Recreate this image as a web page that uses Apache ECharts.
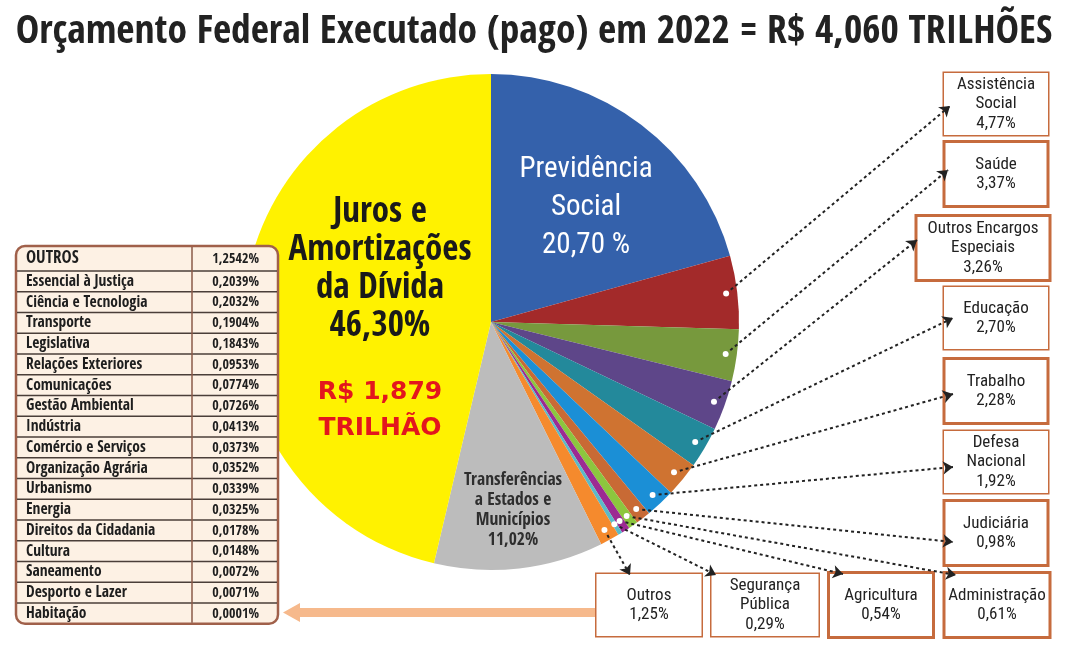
<!DOCTYPE html>
<html>
<head>
<meta charset="utf-8">
<script src="https://cdn.jsdelivr.net/npm/echarts@6/dist/echarts.min.js"></script>
<style>
html,body{margin:0;padding:0;background:#fff;}
#c{width:1068px;height:652px;}
</style>
</head>
<body>
<div id="c"></div>
<script>
// ---------------- DATA ----------------
const titleText = 'Orçamento Federal Executado (pago) em 2022 = R$ 4,060 TRILHÕES';
const categories = ['Previdência Social','Assistência Social','Saúde','Outros Encargos Especiais','Educação','Trabalho','Defesa Nacional','Judiciária','Administração','Agricultura','Segurança Pública','Outros','Transferências a Estados e Municípios','Juros e Amortizações da Dívida'];
const labelNames = ['Previdência\nSocial','Assistência\nSocial','Saúde','Outros Encargos\nEspeciais','Educação','Trabalho','Defesa\nNacional','Judiciária','Administração','Agricultura','Segurança\nPública','Outros','Transferências\na Estados e\nMunicípios','Juros e\nAmortizações\nda Dívida'];
const values = [20.70,4.77,3.37,3.26,2.70,2.28,1.92,0.98,0.61,0.54,0.29,1.25,11.02,46.30];
const jurosAmount = 'R$ 1,879\nTRILHÃO';
const otherNames = ['OUTROS','Essencial à Justiça','Ciência e Tecnologia','Transporte','Legislativa','Relações Exteriores','Comunicações','Gestão Ambiental','Indústria','Comércio e Serviços','Organização Agrária','Urbanismo','Energia','Direitos da Cidadania','Cultura','Saneamento','Desporto e Lazer','Habitação'];
const otherValues = [1.2542,0.2039,0.2032,0.1904,0.1843,0.0953,0.0774,0.0726,0.0413,0.0373,0.0352,0.0339,0.0325,0.0178,0.0148,0.0072,0.0071,0.0001];

// ---------------- LAYOUT / STYLE ----------------
const colors = ['#3461ab','#a32a2a','#77993d','#5e4689','#23899b','#cf7331','#1b8fd6','#c86a35','#8cc63e','#9c2a92','#5bbac8','#f58a2d','#bcbcbc','#fff200'];
const CX = 491, CY = 322, R = 248;
const condB = '"Open Sans Condensed","Roboto Condensed",sans-serif';
const condR = '"Roboto Condensed","Open Sans Condensed",sans-serif';
const boxColor = '#c66b3d';
// label boxes for small slices: index -> [centerX, centerY, width, thick, arrowTipX, arrowTipY]
const boxes = {
  1:[996,104,107,false,950,106],
  2:[996,174,107,true,948,170],
  3:[983,248,137,true,917,240],
  4:[996,318,107,false,953,318],
  5:[996,391,107,true,953,394],
  6:[996,462,107,false,953,467],
  7:[996,533,107,true,953,542],
  8:[997,605,109,true,956,575],
  9:[881,605,108,true,843,574],
  10:[765,605,110,false,716,575],
  11:[649,605,108,false,630,575]
};
const inner = {0:[586,208], 12:[513,510], 13:[380,320]};

function fmt(v, d){ return v.toFixed(d).replace('.', ','); }

// title size fitted to the reference width
const mc = document.createElement('canvas').getContext('2d');
mc.font = 'bold 40px ' + condB;
const titleSize = Math.min(44, 40 * 1037 / mc.measureText(titleText).width);

// cumulative angles
const total = values.reduce((a,b)=>a+b,0);
let cum = 0;
const mids = values.map(v => { const m = (cum + v/2) / total * 2*Math.PI; cum += v; return m; });

const pieData = categories.map((name,i) => {
  const item = {name, value: values[i], itemStyle:{color: colors[i]}};
  if (boxes[i]) {
    const lines = labelNames[i].split('\n').length + 1;
    const padV = (62 - 19.5*lines)/2;
    const b = boxes[i];
    item.label = {
      show:true, position:'outside',
      formatter: labelNames[i] + '\n' + fmt(values[i],2) + '%',
      fontFamily: condR, fontSize:17, lineHeight:19.5, color:'#222',
      backgroundColor:'#fff', borderColor: boxColor, borderWidth: b[3]?3:1.5,
      width: b[2]-(b[3]?6:3), overflow:'none', padding:[padV,0,padV,0], align:'center'
    };
    item.labelLine = {show:false};
  } else if (i === 0) {
    item.label = {show:true, position:'inside', formatter: labelNames[i] + '\n' + fmt(values[i],2) + ' %',
      color:'#fff', fontFamily: condR, fontSize:29, lineHeight:38, align:'center'};
  } else if (i === 12) {
    item.label = {show:true, position:'inside', formatter: labelNames[i] + '\n' + fmt(values[i],2) + '%',
      color:'#2e2e2e', fontFamily: condB, fontWeight:'bold', fontSize:17.5, lineHeight:20, align:'center'};
  } else if (i === 13) {
    const parts = labelNames[i].split('\n').concat([fmt(values[i],2)+'%']).map(s=>'{a|'+s+'}');
    const red = jurosAmount.split('\n').map(s=>'{b|'+s+'}');
    item.label = {show:true, position:'inside', formatter: parts.join('\n') + '\n{g| }\n' + red.join('\n'),
      align:'center',
      rich:{
        a:{color:'#1a1a1a', fontFamily: condB, fontWeight:'bold', fontSize:35, lineHeight:38, align:'center'},
        g:{fontSize:10, lineHeight:28},
        b:{color:'#e3161d', fontFamily:'"DejaVu Sans",sans-serif', fontWeight:'bold', fontSize:25, lineHeight:36, align:'center'}
      }};
  }
  return item;
});

// dots and arrows computed from slice angles
const dotR = R * 0.955;
const dots = [], arrows = [];
Object.keys(boxes).forEach(k => {
  const i = +k, a = mids[i];
  const p = [CX + dotR*Math.sin(a), CY - dotR*Math.cos(a)];
  dots.push(p);
  arrows.push({coords:[p, [boxes[i][4], boxes[i][5]]]});
});

// table graphic
const tX = 16, tY = 246, tW = 262, firstH = 25, rowH = 20.75, colX = 192;
const tH = firstH + rowH*(otherNames.length-1);
const tableEls = [];
tableEls.push({type:'rect', shape:{x:tX,y:tY,width:tW,height:tH,r:9}, style:{fill:'#fdf1e4', stroke:'#a0604a', lineWidth:2.5}, z:10});
for (let r=0; r<otherNames.length; r++) {
  const top = r===0 ? tY : tY + firstH + rowH*(r-1);
  const h = r===0 ? firstH : rowH;
  if (r>0) tableEls.push({type:'line', shape:{x1:tX+1,y1:top,x2:tX+tW-1,y2:top}, style:{stroke:'#4a3e38', lineWidth:1.6}, z:11});
  tableEls.push({type:'text', x:tX+10, y:top+h/2+0.5, style:{text: otherNames[r], fill:'#1e1e1e', font: 'bold ' + (r===0?17:15.5) + 'px ' + condB, textVerticalAlign:'middle', textAlign:'left'}, z:12});
  tableEls.push({type:'text', x:tX+tW-19, y:top+h/2+0.5, style:{text: fmt(otherValues[r],4)+'%', fill:'#1e1e1e', font: 'bold 14px ' + condB, textVerticalAlign:'middle', textAlign:'right'}, z:12});
}
tableEls.push({type:'line', shape:{x1:colX,y1:tY+1,x2:colX,y2:tY+tH-1}, style:{stroke:'#8a5a48', lineWidth:1.5}, z:11});

// big orange arrow
const bigArrow = [
  {type:'rect', shape:{x:296,y:608,width:299,height:9}, style:{fill:'#f6b98c'}, z:5},
  {type:'polygon', shape:{points:[[283,612.5],[300,603],[300,622]]}, style:{fill:'#f6b98c'}, z:5}
];

const chart = echarts.init(document.getElementById('c'), null, {renderer:'canvas'});
chart.setOption({
  animation:false,
  title:{text: titleText, left:'center', top: 36 - titleSize*0.72,
    textStyle:{fontFamily: condB, fontWeight:'bold', fontSize:titleSize, color:'#222'}},
  grid:{left:0,right:0,top:0,bottom:0},
  xAxis:{type:'value', min:0, max:1068, show:false},
  yAxis:{type:'value', min:0, max:652, inverse:true, show:false},
  graphic: tableEls.concat(bigArrow),
  series:[
    {
      type:'pie', center:[CX,CY], radius:[0,R], startAngle:90, clockwise:true,
      avoidLabelOverlap:false, silent:true,
      itemStyle:{borderWidth:0},
      label:{show:false},
      labelLine:{show:false},
      labelLayout: function(p){
        const i = p.dataIndex;
        if (boxes[i]) return {x: boxes[i][0], y: boxes[i][1], align:'center', verticalAlign:'middle'};
        if (inner[i]) return {x: inner[i][0], y: inner[i][1], align:'center', verticalAlign:'middle'};
      },
      data: pieData,
      z:2
    },
    {
      type:'lines', coordinateSystem:'cartesian2d', z:4,
      symbol:['none','arrow'], symbolSize:10,
      lineStyle:{color:'#222', width:2, type:[3,3], opacity:1, curveness:0},
      data: arrows
    },
    {
      type:'scatter', coordinateSystem:'cartesian2d', z:5,
      symbolSize:6, itemStyle:{color:'#ffffff', opacity:1},
      data: dots
    }
  ]
});
</script>
</body>
</html>
